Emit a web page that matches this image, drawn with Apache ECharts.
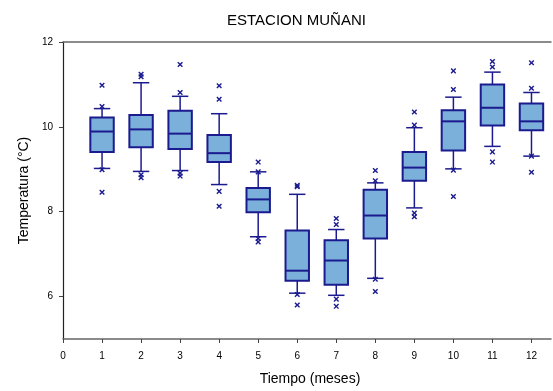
<!DOCTYPE html>
<html>
<head>
<meta charset="utf-8">
<script src="https://cdn.jsdelivr.net/npm/echarts@6/dist/echarts.min.js"></script>
<style>
  html, body { margin: 0; padding: 0; background: #fff; }
  #chart { width: 553px; height: 391px; }
</style>
</head>
<body>
<div id="chart"></div>
<script>
// Monthly temperature distribution (°C), Muñani station
const months      = [1, 2, 3, 4, 5, 6, 7, 8, 9, 10, 11, 12];
const lowWhisker  = [9.02, 8.95, 8.97, 8.64, 7.41, 6.08, 6.03, 6.43, 8.09, 9.01, 9.54, 9.31];
const q1          = [9.41, 9.52, 9.48, 9.17, 7.99, 6.37, 6.28, 7.37, 8.73, 9.44, 10.03, 9.92];
const median      = [9.89, 9.94, 9.84, 9.38, 8.29, 6.61, 6.85, 7.91, 9.04, 10.13, 10.45, 10.13];
const q3          = [10.22, 10.28, 10.38, 9.81, 8.56, 7.56, 7.33, 8.52, 9.41, 10.39, 11.00, 10.55];
const highWhisker = [10.43, 11.04, 10.72, 10.31, 8.94, 8.41, 7.58, 8.68, 9.98, 10.70, 11.29, 10.81];
const outliers = [
  [10.98, 10.48, 8.99, 8.46],
  [11.24, 11.18, 8.87, 8.80],
  [11.47, 10.81, 8.91, 8.84],
  [10.97, 10.65, 8.48, 8.13],
  [9.17, 8.94, 7.37, 7.29],
  [8.62, 8.59, 6.05, 5.80],
  [7.84, 7.70, 5.94, 5.77],
  [8.97, 8.73, 6.41, 6.12],
  [10.35, 10.04, 7.97, 7.88],
  [11.32, 10.88, 8.98, 8.36],
  [11.54, 11.41, 9.41, 9.17],
  [11.51, 10.91, 9.31, 8.93]
];
const xTicks = [0, 1, 2, 3, 4, 5, 6, 7, 8, 9, 10, 11, 12];
const yTicks = [6, 8, 10, 12];

const boxData = months.map((m, i) => [m, lowWhisker[i], q1[i], median[i], q3[i], highWhisker[i]]);
const outlierData = [];
months.forEach((m, i) => outliers[i].forEach(v => outlierData.push([m, v])));

const NAVY = '#1b1b8f';
const FILL = '#7bb0da';
const FONT = '"Liberation Sans", Arial, sans-serif';

function renderBox(params, api) {
  const x = api.value(0);
  const low = api.coord([x, api.value(1)]);
  const p1 = api.coord([x, api.value(2)]);
  const pm = api.coord([x, api.value(3)]);
  const p3 = api.coord([x, api.value(4)]);
  const high = api.coord([x, api.value(5)]);
  const half = api.size([0.3, 0])[0];
  const cap = api.size([0.21, 0])[0];
  const cx = low[0];
  const wStyle = { stroke: NAVY, lineWidth: 1.5 };
  return {
    type: 'group',
    children: [
      { type: 'line', shape: { x1: cx, y1: high[1], x2: cx, y2: p3[1] }, style: wStyle },
      { type: 'line', shape: { x1: cx, y1: p1[1], x2: cx, y2: low[1] }, style: wStyle },
      { type: 'line', shape: { x1: cx - cap, y1: high[1], x2: cx + cap, y2: high[1] }, style: wStyle },
      { type: 'line', shape: { x1: cx - cap, y1: low[1], x2: cx + cap, y2: low[1] }, style: wStyle },
      { type: 'rect', shape: { x: cx - half, y: p3[1], width: half * 2, height: p1[1] - p3[1] },
        style: { fill: FILL, stroke: NAVY, lineWidth: 2 } },
      { type: 'line', shape: { x1: cx - half, y1: pm[1], x2: cx + half, y2: pm[1] },
        style: { stroke: NAVY, lineWidth: 2 } }
    ]
  };
}

function renderCross(params, api) {
  const p = api.coord([api.value(0), api.value(1)]);
  const s = 2.3;
  const st = { stroke: NAVY, lineWidth: 1.4 };
  return {
    type: 'group',
    children: [
      { type: 'line', shape: { x1: p[0] - s, y1: p[1] - s, x2: p[0] + s, y2: p[1] + s }, style: st },
      { type: 'line', shape: { x1: p[0] - s, y1: p[1] + s, x2: p[0] + s, y2: p[1] - s }, style: st }
    ]
  };
}

const chart = echarts.init(document.getElementById('chart'), null, { renderer: 'canvas' });
chart.setOption({
  backgroundColor: '#fff',
  animation: false,
  title: {
    text: 'ESTACION MUÑANI',
    left: 222,
    top: 8,
    textStyle: { fontFamily: FONT, fontSize: 15, fontWeight: 'normal', color: '#000' }
  },
  grid: { left: 63, top: 42, right: 2, bottom: 49 },
  xAxis: [{
    type: 'value',
    min: 0,
    max: 12.5,
    name: 'Tiempo (meses)',
    nameLocation: 'middle',
    nameGap: 33,
    nameTextStyle: { fontFamily: FONT, fontSize: 14, color: '#000', padding: [0, 0, 0, 6] },
    axisLine: { lineStyle: { color: '#666', width: 1.5 } },
    axisTick: { show: true, length: 4, customValues: xTicks, lineStyle: { color: '#444' } },
    axisLabel: { customValues: xTicks, margin: 12, fontFamily: FONT, fontSize: 10, color: '#000' },
    splitLine: { show: false }
  }, {
    type: 'value',
    position: 'top',
    min: 0,
    max: 12.5,
    axisLine: { show: true, lineStyle: { color: '#666', width: 1.5 } },
    axisTick: { show: false },
    axisLabel: { show: false },
    splitLine: { show: false }
  }],
  yAxis: {
    type: 'value',
    min: 5,
    max: 12,
    name: 'Temperatura (°C)',
    nameLocation: 'middle',
    nameGap: 29,
    nameTextStyle: { fontFamily: FONT, fontSize: 14, color: '#000' },
    axisLine: { show: true, lineStyle: { color: '#222', width: 1.2 } },
    axisTick: { show: true, length: 4, customValues: yTicks, lineStyle: { color: '#444' } },
    axisLabel: { customValues: yTicks, margin: 10, fontFamily: FONT, fontSize: 10, color: '#000' },
    splitLine: { show: false }
  },
  series: [{
    type: 'custom',
    renderItem: renderBox,
    data: boxData,
    encode: { x: 0, y: [1, 2, 3, 4, 5] },
    clip: false
  }, {
    type: 'custom',
    renderItem: renderCross,
    data: outlierData,
    encode: { x: 0, y: 1 },
    z: 3
  }]
});
</script>
</body>
</html>
